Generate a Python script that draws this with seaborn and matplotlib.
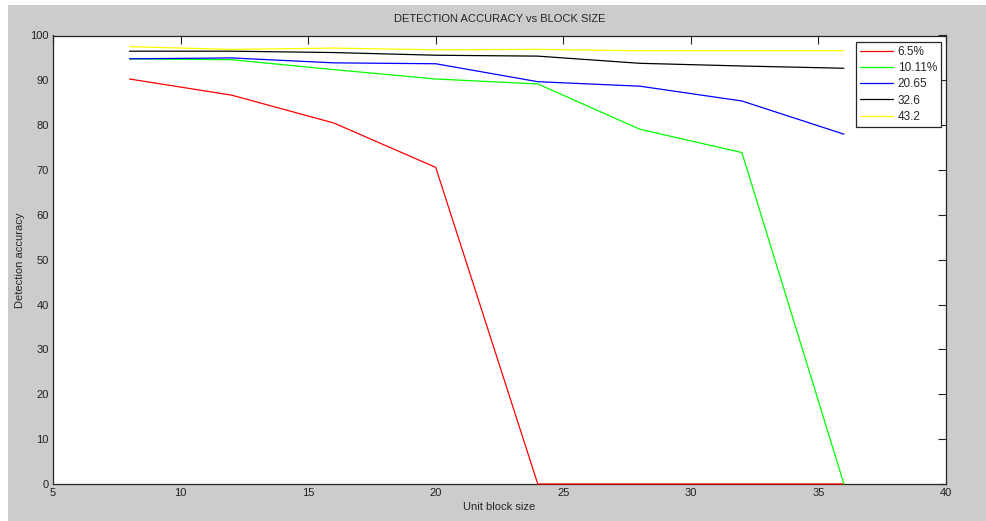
import matplotlib
matplotlib.use("Agg")
import matplotlib.pyplot as plt
import seaborn as sns
import pandas as pd
from matplotlib.patches import Rectangle

# Data
block_sizes = [8, 12, 16, 20, 24, 28, 32, 36]
acc_6_5 = [90.3, 86.7, 80.5, 70.6, 0, 0, 0, 0]
acc_10_11 = [94.8, 94.6, 92.4, 90.3, 89.2, 79.1, 73.9, 0]
acc_20_65 = [94.8, 95.0, 93.9, 93.7, 89.7, 88.7, 85.4, 78.0]
acc_32_6 = [96.5, 96.5, 96.2, 95.6, 95.4, 93.8, 93.2, 92.7]
acc_43_2 = [97.5, 96.9, 97.2, 96.8, 96.9, 96.6, 96.6, 96.6]
series_names = ["6.5%", "10.11%", "20.65", "32.6", "43.2"]
series_vals = [acc_6_5, acc_10_11, acc_20_65, acc_32_6, acc_43_2]
colors = ["#ff0000", "#00ff00", "#0000ff", "#000000", "#ffff00"]
x_ticks = [5, 10, 15, 20, 25, 30, 35, 40]
y_ticks = [0, 10, 20, 30, 40, 50, 60, 70, 80, 90, 100]

rows = []
for name, vals in zip(series_names, series_vals):
    for x, v in zip(block_sizes, vals):
        rows.append({"block": x, "acc": v, "series": name})
df = pd.DataFrame(rows)

sns.set_style("white")
plt.rcParams["font.family"] = ["Liberation Sans", "DejaVu Sans"]

W, H = 986, 521
fig = plt.figure(figsize=(W / 100, H / 100), dpi=100, facecolor="white")
fig.patches.append(Rectangle((8 / W, 0), 1 - 8 / W, (H - 5) / H,
                             transform=fig.transFigure, facecolor="#cccccc",
                             edgecolor="none", zorder=-10))
ax = fig.add_axes([53 / W, (H - 484) / H, (946 - 53) / W, (484 - 35.5) / H])
ax.set_facecolor("white")

sns.lineplot(data=df, x="block", y="acc", hue="series", hue_order=series_names,
             palette=colors, linewidth=0.9, ax=ax, legend=False)
for ln in ax.get_lines():
    ln.set_zorder(3)
    ln.set_clip_on(False)

ax.set_xlim(5, 40)
ax.set_ylim(0, 100)
ax.set_xticks(x_ticks)
ax.set_yticks(y_ticks)
ax.tick_params(direction="in", length=6, width=0.8, top=True, right=True,
               labelsize=8, colors="#222222", pad=3)
for s in ax.spines.values():
    s.set_visible(True)
    s.set_color("#262626")
    s.set_linewidth(0.9)
    s.set_zorder(2)
ax.set_xlabel("Unit block size", fontsize=8, labelpad=3)
ax.set_ylabel("Detection accuracy", fontsize=8, labelpad=4)
ax.set_title("DETECTION ACCURACY vs BLOCK SIZE", fontsize=8, pad=10)

handles = [plt.Line2D([0], [0], color=c, lw=0.9) for c in colors]
leg = ax.legend(handles, series_names, loc="upper right",
                bbox_to_anchor=(941 / W, (H - 42) / H), bbox_transform=fig.transFigure,
                fontsize=8.5, frameon=True, fancybox=False, framealpha=1,
                edgecolor="#262626", handlelength=2.8, handletextpad=0.4,
                borderpad=0.35, labelspacing=0.35, borderaxespad=0)
leg.get_frame().set_linewidth(0.9)
leg.set_zorder(5)

fig.savefig("out.png", dpi=100, facecolor=fig.get_facecolor())
